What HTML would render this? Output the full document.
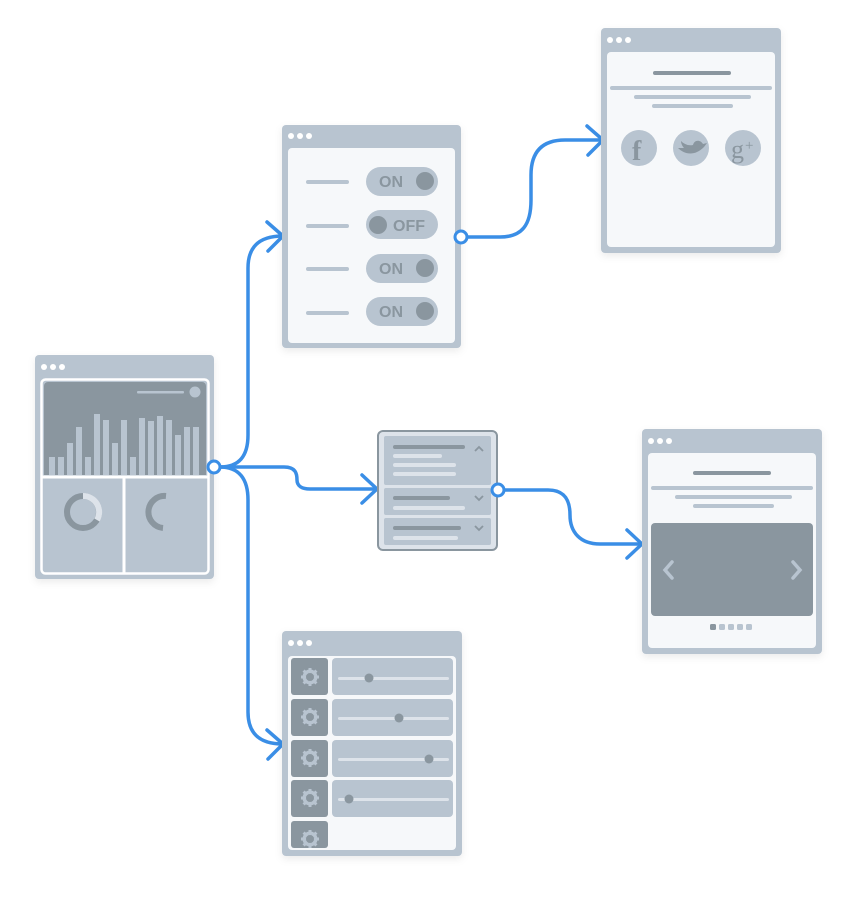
<!DOCTYPE html>
<html><head><style>html,body{margin:0;padding:0;background:#fff;}svg{display:block}</style></head><body>
<svg width="857" height="897" viewBox="0 0 857 897" xmlns="http://www.w3.org/2000/svg" font-family="Liberation Sans, sans-serif">
<defs>
<filter id="sh" x="-20%" y="-20%" width="140%" height="140%"><feDropShadow dx="0" dy="3" stdDeviation="4" flood-color="#000" flood-opacity="0.08"/></filter>
<g id="gear"><circle r="6" fill="none" stroke="#b8c4d0" stroke-width="3"/><g stroke="#b8c4d0" stroke-width="3"><line x1="0" y1="-9" x2="0" y2="9"/><line x1="-9" y1="0" x2="9" y2="0"/><line x1="-6.4" y1="-6.4" x2="6.4" y2="6.4"/><line x1="-6.4" y1="6.4" x2="6.4" y2="-6.4"/></g><circle r="4" fill="#8a969f"/></g>
</defs>

<!-- connectors -->
<g fill="none" stroke="#3a8ee6" stroke-width="3.5" stroke-linecap="round" stroke-linejoin="round">
<path d="M220,467 C240,467 248,455 248,435 L248,268 C248,248 258,236 283,236"/>
<path d="M267,222 L283,236 L268,251"/>
<path d="M220,467 C240,467 248,480 248,500 L248,712 C248,732 258,744 283,744"/>
<path d="M267,730 L283,744 L268,759"/>
<path d="M220,467 L284,467 C296,467 297,474 297,480 C297,486 302,489 310,489 L377,489"/>
<path d="M362,475 L377,489 L362,503"/>
<path d="M467,237 L500,237 C522,237 531,225 531,200 L531,175 C531,152 542,140 565,140 L603,140"/>
<path d="M587,126 L603,140 L588,155"/>
<path d="M504,490 L548,490 C566,490 570,502 570,515 C570,532 580,544 600,544 L642,544"/>
<path d="M627,530 L642,544 L627,558"/>
</g>

<!-- dashboard -->
<g filter="url(#sh)"><rect x="35" y="355" width="179" height="224" rx="4" fill="#b8c4d0"/></g>
<g fill="#fff"><circle cx="44" cy="367" r="3"/><circle cx="53" cy="367" r="3"/><circle cx="62" cy="367" r="3"/></g>
<rect x="41.5" y="379.5" width="167" height="194" rx="4" fill="#b8c4d0" stroke="#fff" stroke-width="2.5"/>
<line x1="124" y1="477" x2="124" y2="573" stroke="#fff" stroke-width="3"/>
<line x1="42" y1="477" x2="208" y2="477" stroke="#fff" stroke-width="3"/>
<path d="M48,382 H202 A4,4 0 0 1 206,386 V475 H44 V386 A4,4 0 0 1 48,382 Z" fill="#8a969f"/>
<g fill="#b8c4d0">
<rect x="49" y="457" width="6" height="18"/><rect x="58" y="457" width="6" height="18"/><rect x="67" y="443" width="6" height="32"/><rect x="76" y="427" width="6" height="48"/><rect x="85" y="457" width="6" height="18"/><rect x="94" y="414" width="6" height="61"/><rect x="103" y="420" width="6" height="55"/><rect x="112" y="443" width="6" height="32"/><rect x="121" y="420" width="6" height="55"/><rect x="130" y="457" width="6" height="18"/><rect x="139" y="418" width="6" height="57"/><rect x="148" y="421" width="6" height="54"/><rect x="157" y="416" width="6" height="59"/><rect x="166" y="420" width="6" height="55"/><rect x="175" y="435" width="6" height="40"/><rect x="184" y="427" width="6" height="48"/><rect x="193" y="427" width="6" height="48"/>
<rect x="137" y="391" width="47" height="2.5" rx="1"/><circle cx="195" cy="392" r="5.5"/>
</g>
<circle cx="83" cy="512" r="16" fill="none" stroke="#8a969f" stroke-width="6"/>
<path d="M83,496 A16,16 0 0 1 97,520" fill="none" stroke="#dde3ea" stroke-width="6"/>
<path d="M166,496 A16,16 0 0 0 163,528" fill="none" stroke="#8a969f" stroke-width="6"/>
<circle cx="214" cy="467" r="6" fill="#fff" stroke="#3a8ee6" stroke-width="3"/>

<!-- toggles -->
<g filter="url(#sh)"><rect x="282" y="125" width="179" height="223" rx="4" fill="#b8c4d0"/></g>
<g fill="#fff"><circle cx="291" cy="136" r="3"/><circle cx="300" cy="136" r="3"/><circle cx="309" cy="136" r="3"/></g>
<rect x="288" y="148" width="167" height="195" rx="4" fill="#f6f8fa"/>
<g fill="#b8c4d0">
<rect x="306" y="180" width="43" height="4" rx="2"/><rect x="306" y="224" width="43" height="4" rx="2"/><rect x="306" y="267" width="43" height="4" rx="2"/><rect x="306" y="311" width="43" height="4" rx="2"/>
<rect x="366" y="167" width="72" height="29" rx="14.5"/><rect x="366" y="210" width="72" height="29" rx="14.5"/><rect x="366" y="254" width="72" height="29" rx="14.5"/><rect x="366" y="297" width="72" height="29" rx="14.5"/>
</g>
<g fill="#8a969f"><circle cx="425" cy="181" r="9"/><circle cx="378" cy="225" r="9"/><circle cx="425" cy="268" r="9"/><circle cx="425" cy="311" r="9"/>
<g font-size="16" font-weight="bold"><text x="379" y="187">ON</text><text x="393" y="231">OFF</text><text x="379" y="274">ON</text><text x="379" y="317">ON</text></g></g>
<circle cx="461" cy="237" r="6" fill="#fff" stroke="#3a8ee6" stroke-width="3"/>

<!-- social -->
<g filter="url(#sh)"><rect x="601" y="28" width="180" height="225" rx="4" fill="#b8c4d0"/></g>
<g fill="#fff"><circle cx="610" cy="40" r="3"/><circle cx="619" cy="40" r="3"/><circle cx="628" cy="40" r="3"/></g>
<rect x="607" y="52" width="168" height="195" rx="4" fill="#f6f8fa"/>
<rect x="653" y="71" width="78" height="4" rx="2" fill="#8a969f"/>
<g fill="#b8c4d0"><rect x="610" y="86" width="162" height="4" rx="2"/><rect x="634" y="95" width="117" height="4" rx="2"/><rect x="652" y="104" width="81" height="4" rx="2"/>
<circle cx="639" cy="148" r="18"/><circle cx="691" cy="148" r="18"/><circle cx="743" cy="148" r="18"/></g>
<text x="632" y="160" font-size="28" font-weight="bold" fill="#8a969f" font-family="Liberation Serif, serif">f</text>
<path d="M678,148 C684,154 694,157 704,147 L707,143 L703,144 C700,139 694,140 693,145 C688,146 684,144 681,141 C681,144 683,147 684,148 Z" fill="#8a969f"/>
<text x="731" y="158" font-size="26" fill="#8a969f" font-family="Liberation Serif, serif">g</text><text x="745" y="150" font-size="15" fill="#8a969f" font-family="Liberation Serif, serif">+</text>

<!-- accordion -->
<rect x="378" y="431" width="119" height="119" rx="5" fill="#dde3ea" stroke="#8a969f" stroke-width="2"/>
<g fill="#b8c4d0"><rect x="384" y="436" width="107" height="49" rx="2"/><rect x="384" y="488" width="107" height="27" rx="2"/><rect x="384" y="518" width="107" height="27" rx="2"/></g>
<g fill="#8a969f"><rect x="393" y="445" width="72" height="4" rx="2"/><rect x="393" y="496" width="57" height="4" rx="2"/><rect x="393" y="526" width="68" height="4" rx="2"/></g>
<g fill="#dde3ea"><rect x="393" y="454" width="49" height="4" rx="2"/><rect x="393" y="463" width="63" height="4" rx="2"/><rect x="393" y="472" width="63" height="4" rx="2"/><rect x="393" y="506" width="72" height="4" rx="2"/><rect x="393" y="536" width="65" height="4" rx="2"/></g>
<g fill="none" stroke="#8a969f" stroke-width="1.8"><path d="M475,451 L479,447 L483,451"/><path d="M475,496 L479,500 L483,496"/><path d="M475,526 L479,530 L483,526"/></g>
<circle cx="498" cy="490" r="6" fill="#fff" stroke="#3a8ee6" stroke-width="3"/>

<!-- carousel -->
<g filter="url(#sh)"><rect x="642" y="429" width="180" height="225" rx="4" fill="#b8c4d0"/></g>
<g fill="#fff"><circle cx="651" cy="441" r="3"/><circle cx="660" cy="441" r="3"/><circle cx="669" cy="441" r="3"/></g>
<rect x="648" y="453" width="168" height="195" rx="4" fill="#f6f8fa"/>
<rect x="693" y="471" width="78" height="4" rx="2" fill="#8a969f"/>
<g fill="#b8c4d0"><rect x="651" y="486" width="162" height="4" rx="2"/><rect x="675" y="495" width="117" height="4" rx="2"/><rect x="693" y="504" width="81" height="4" rx="2"/></g>
<rect x="651" y="523" width="162" height="93" rx="4" fill="#8a969f"/>
<g fill="none" stroke="#b8c4d0" stroke-width="3.5" stroke-linecap="round"><path d="M672,562 L665,570 L672,578"/><path d="M793,562 L800,570 L793,578"/></g>
<rect x="710" y="624" width="6" height="6" rx="1.5" fill="#8a969f"/>
<g fill="#b8c4d0"><rect x="719" y="624" width="6" height="6" rx="1.5"/><rect x="728" y="624" width="6" height="6" rx="1.5"/><rect x="737" y="624" width="6" height="6" rx="1.5"/><rect x="746" y="624" width="6" height="6" rx="1.5"/></g>

<!-- sliders -->
<g filter="url(#sh)"><rect x="282" y="631" width="180" height="225" rx="4" fill="#b8c4d0"/></g>
<g fill="#fff"><circle cx="291" cy="643" r="3"/><circle cx="300" cy="643" r="3"/><circle cx="309" cy="643" r="3"/></g>
<rect x="288" y="656" width="168" height="194" rx="4" fill="#f6f8fa"/>
<clipPath id="cl"><rect x="288" y="656" width="168" height="192"/></clipPath>
<g clip-path="url(#cl)">
<g fill="#8a969f"><rect x="291" y="658" width="37" height="37" rx="3"/><rect x="291" y="699" width="37" height="37" rx="3"/><rect x="291" y="740" width="37" height="37" rx="3"/><rect x="291" y="780" width="37" height="37" rx="3"/><rect x="291" y="821" width="37" height="27" rx="3"/></g>
<use href="#gear" x="310" y="677"/><use href="#gear" x="310" y="717"/><use href="#gear" x="310" y="758"/><use href="#gear" x="310" y="798"/><use href="#gear" x="310" y="839"/>
</g>
<g fill="#b8c4d0"><rect x="332" y="658" width="121" height="37" rx="4"/><rect x="332" y="699" width="121" height="37" rx="4"/><rect x="332" y="740" width="121" height="37" rx="4"/><rect x="332" y="780" width="121" height="37" rx="4"/></g>
<g fill="#dde3ea"><rect x="338" y="677" width="111" height="3" rx="1.5"/><rect x="338" y="717" width="111" height="3" rx="1.5"/><rect x="338" y="758" width="111" height="3" rx="1.5"/><rect x="338" y="798" width="111" height="3" rx="1.5"/></g>
<g fill="#8a969f"><circle cx="369" cy="678" r="4.5"/><circle cx="399" cy="718" r="4.5"/><circle cx="429" cy="759" r="4.5"/><circle cx="349" cy="799" r="4.5"/></g>
</svg>
</body></html>
